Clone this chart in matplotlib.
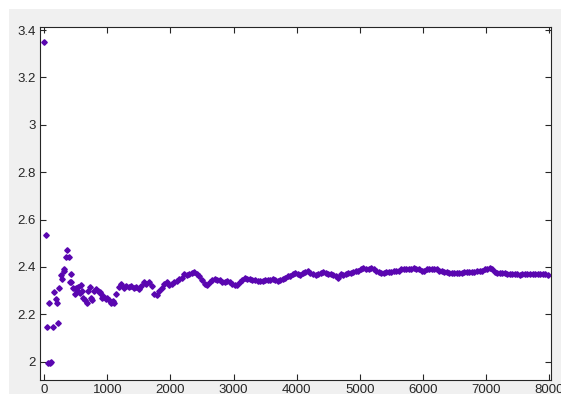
import matplotlib.pyplot as plt
from matplotlib.patches import Rectangle

# early samples (sparse, noisy)
x_early = [0, 20, 40, 60, 80, 90, 110, 140, 160, 185, 200, 225, 240, 265, 280,
           305, 320, 345, 360, 385, 400, 420, 430, 460, 480, 500, 520, 540, 560,
           580, 600, 620, 640, 670, 700, 720, 740, 760, 790, 820, 850, 880, 900,
           920, 950, 980, 1000, 1030, 1060, 1090, 1110]
y_early = [3.35, 2.535, 2.145, 1.995, 2.25, 1.995, 2.0, 2.145, 2.295, 2.265, 2.25,
           2.165, 2.31, 2.365, 2.35, 2.385, 2.39, 2.44, 2.47, 2.44, 2.335, 2.37,
           2.335, 2.31, 2.285, 2.31, 2.3, 2.315, 2.29, 2.325, 2.3, 2.27, 2.26,
           2.25, 2.3, 2.315, 2.27, 2.26, 2.3, 2.305, 2.3, 2.295, 2.285, 2.27,
           2.275, 2.265, 2.27, 2.26, 2.25, 2.255, 2.25]

# later samples, every 40
x_start, x_step = 1140, 40
y_late = [
    2.285, 2.315, 2.33, 2.31, 2.32, 2.315, 2.32, 2.31, 2.315, 2.305,
    2.32, 2.335, 2.33, 2.335, 2.32, 2.285, 2.28, 2.3, 2.31, 2.33,
    2.335, 2.325, 2.33, 2.335, 2.34, 2.35, 2.355, 2.37, 2.365, 2.37,
    2.375, 2.38, 2.37, 2.36, 2.345, 2.33, 2.325, 2.335, 2.345, 2.35,
    2.345, 2.345, 2.335, 2.335, 2.34, 2.335, 2.33, 2.325, 2.325, 2.335,
    2.345, 2.355, 2.35, 2.35, 2.345, 2.345, 2.34, 2.34, 2.34, 2.345,
    2.345, 2.345, 2.35, 2.345, 2.34, 2.345, 2.35, 2.355, 2.36, 2.36,
    2.37, 2.375, 2.37, 2.365, 2.375, 2.38, 2.385, 2.375, 2.37, 2.365,
    2.37, 2.375, 2.38, 2.375, 2.37, 2.37, 2.365, 2.36, 2.355, 2.37,
    2.365, 2.37, 2.375, 2.375, 2.38, 2.385, 2.385, 2.39, 2.395, 2.39,
    2.39, 2.395, 2.39, 2.385, 2.38, 2.375, 2.375, 2.38, 2.38, 2.38,
    2.385, 2.385, 2.385, 2.39, 2.39, 2.39, 2.39, 2.39, 2.395, 2.39,
    2.39, 2.385, 2.385, 2.39, 2.39, 2.39, 2.39, 2.39, 2.385, 2.385,
    2.38, 2.38, 2.375, 2.375, 2.375, 2.375, 2.375, 2.375, 2.38, 2.38,
    2.38, 2.38, 2.38, 2.385, 2.385, 2.385, 2.39, 2.39, 2.395, 2.39,
    2.38, 2.375, 2.375, 2.375, 2.375, 2.37, 2.37, 2.37, 2.37, 2.37,
    2.368, 2.37, 2.37, 2.37, 2.37, 2.37, 2.372, 2.37, 2.37, 2.37,
    2.37, 2.368,
]
x_late = [x_start + i * x_step for i in range(len(y_late))]

x_ticks = [0, 1000, 2000, 3000, 4000, 5000, 6000, 7000, 8000]
y_ticks = [2, 2.2, 2.4, 2.6, 2.8, 3, 3.2, 3.4]
y_labels = ["2", "2.2", "2.4", "2.6", "2.8", "3", "3.2", "3.4"]

plt.rcParams['font.family'] = ['Liberation Sans', 'DejaVu Sans']

fig = plt.figure(figsize=(5.61, 3.94), dpi=100, facecolor='#f0f0f0')
# white margin strips on top and left
fig.patches.append(Rectangle((0, 0), 9 / 561, 1, transform=fig.transFigure,
                             facecolor='white', edgecolor='none', zorder=0))
fig.patches.append(Rectangle((0, 1 - 9 / 394), 1, 9 / 394, transform=fig.transFigure,
                             facecolor='white', edgecolor='none', zorder=0))

ax = fig.add_axes([40 / 561, 14 / 394, 510.7 / 561, 353.3 / 394])
ax.set_facecolor('white')

color = '#5a06b0'
ax.plot(x_early + x_late, y_early + y_late, linestyle='none', marker='D',
        markersize=2.8, color=color, markeredgewidth=1.0)

ax.set_xlim(-68, 8028)
ax.set_ylim(1.923, 3.414)
ax.set_xticks(x_ticks)
ax.set_yticks(y_ticks)
ax.set_yticklabels(y_labels)
ax.tick_params(direction='in', top=True, right=True, length=4, width=0.8,
               color='#262626', labelcolor='#262626', labelsize=9.5, pad=3)
for s in ax.spines.values():
    s.set_color('#262626')
    s.set_linewidth(0.8)

fig.savefig('out.png', dpi=100, facecolor=fig.get_facecolor())
